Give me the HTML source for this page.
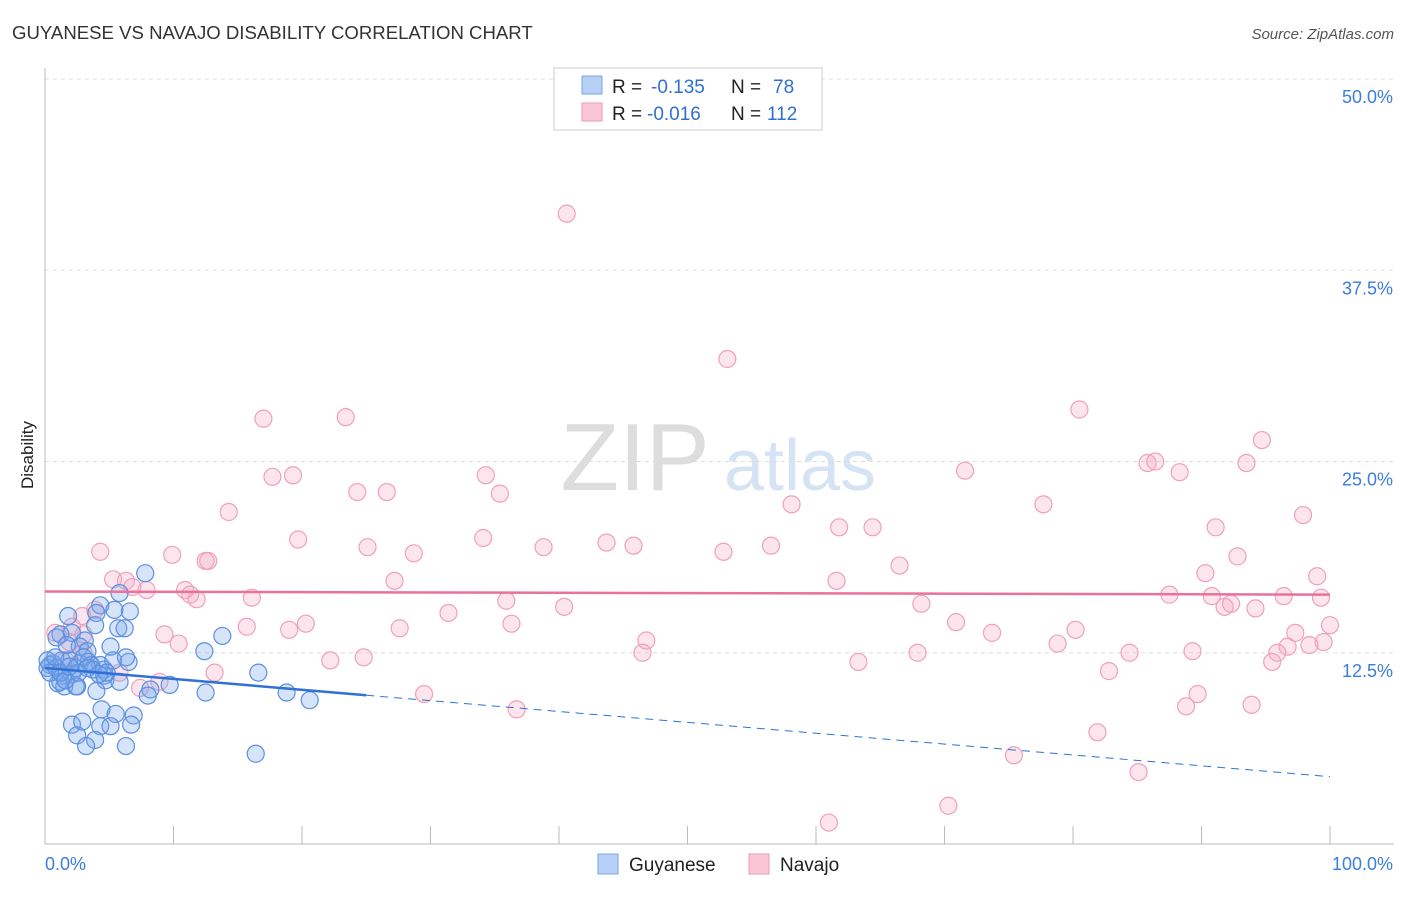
<!DOCTYPE html>
<html><head><meta charset="utf-8"><style>
body{margin:0;background:#fff;font-family:"Liberation Sans",sans-serif;}
svg text{font-family:"Liberation Sans",sans-serif;}
</style></head><body>
<svg id="chart" width="1406" height="892" xmlns="http://www.w3.org/2000/svg">
<text x="12" y="39" font-size="18.6" fill="#333">GUYANESE VS NAVAJO DISABILITY CORRELATION CHART</text>
<text x="1394" y="39" font-size="15" fill="#555" text-anchor="end" font-style="italic">Source: ZipAtlas.com</text>
<text x="33" y="455" font-size="17" fill="#222" text-anchor="middle" transform="rotate(-90 33 455)">Disability</text>
<g><text x="635" y="490" font-size="96" fill="#ddd" text-anchor="middle" font-family="Liberation Serif">ZIP</text><text x="800" y="490" font-size="72" fill="#d5e3f5" text-anchor="middle">atlas</text></g>
<g id="grid"></g><g id="pts"></g><g id="lines"></g>
<g>
<rect x="554" y="68" width="268" height="62" fill="#fff" stroke="#ccc"/>
<rect x="582" y="76" width="20" height="18" fill="#b6d0f5" stroke="#7aa6e6"/>
<rect x="582" y="103" width="20" height="18" fill="#f9c6d6" stroke="#ee9ab4"/>
<text x="612" y="93" font-size="19" fill="#222">R =</text><text x="651" y="93" font-size="19" fill="#2f6fd1">-0.135</text><text x="731" y="93" font-size="19" fill="#222">N =</text><text x="773" y="93" font-size="19" fill="#2f6fd1">78</text>
<text x="612" y="120" font-size="19" fill="#222">R =</text><text x="647" y="120" font-size="19" fill="#2f6fd1">-0.016</text><text x="731" y="120" font-size="19" fill="#222">N =</text><text x="767" y="120" font-size="19" fill="#2f6fd1">112</text>
</g>
<g>
<rect x="598" y="854" width="20" height="20" fill="#b6d0f5" stroke="#7aa6e6"/><text x="629" y="871" font-size="19" fill="#222">Guyanese</text>
<rect x="749" y="854" width="20" height="20" fill="#f9c6d6" stroke="#ee9ab4"/><text x="780" y="871" font-size="19" fill="#222">Navajo</text>
</g>
</svg>
<script>
const yTicks=[12.5,25,37.5,50];
const yTickLabels=["12.5%","25.0%","37.5%","50.0%"];
const xTickVals=[0,10,20,30,40,50,60,70,80,90,100];
const guyTrend=[11.5,-0.071];
const navTrend=[16.5,-0.002];
const guyX=[7.8,5.8,4.3,6.6,5.4,4.0,1.8,3.9,5.7,6.2,13.8,1.2,0.9,2.1,3.1,2.7,3.3,1.7,0.6,0.4,0.2,0.9,1.3,1.9,2.7,3.4,3.6,4.3,4.6,2.4,2.1,1.4,1.0,1.5,2.5,4.6,4.7,5.3,6.5,5.8,12.4,16.6,1.2,2.4,4.0,8.2,8.0,9.7,12.5,18.8,20.6,4.4,5.5,6.9,2.1,2.9,4.3,5.1,6.7,2.5,3.9,3.2,6.3,16.4,5.1,6.3,0.2,0.8,0.4,3.0,3.7,1.2,4.8,1.6,4.2,2.6,3.3,1.9];
const guyY=[17.7,16.4,15.6,15.2,15.3,15.1,14.9,14.3,14.1,14.1,13.6,13.7,13.5,13.8,13.3,12.9,12.6,13.0,11.8,11.7,11.5,11.5,12.0,12.0,11.8,11.9,11.7,11.7,11.4,11.5,11.1,11.0,10.5,10.3,10.3,11.0,10.7,12.0,11.9,10.6,12.6,11.2,10.6,10.3,10.0,10.1,9.7,10.4,9.9,9.9,9.4,8.8,8.5,8.4,7.8,8.0,7.7,7.7,7.8,7.1,6.8,6.4,6.4,5.9,12.9,12.2,12.0,12.2,11.2,12.2,11.4,11.2,11.2,10.7,11.1,11.2,11.5,11.6];
const navX=[40.6,53.1,17.0,23.4,80.5,94.7,19.3,17.7,34.3,24.3,26.6,14.3,35.4,71.6,85.8,86.4,88.3,93.5,77.7,58.1,61.8,64.4,91.1,97.9,19.7,25.1,34.1,28.7,38.8,43.7,45.8,52.8,56.5,4.3,9.9,12.5,12.7,92.8,66.5,90.3,99.0,5.3,6.3,7.9,6.8,10.9,11.3,11.8,16.1,27.2,61.6,87.5,90.8,96.4,99.3,91.8,92.3,94.2,68.2,35.9,40.4,31.4,3.9,2.9,2.1,0.8,3.0,9.3,10.4,15.7,19.0,20.3,27.6,36.3,70.9,73.7,80.2,97.3,100,46.8,78.8,99.5,98.4,96.7,95.9,46.5,84.4,89.3,67.9,22.2,24.8,63.3,95.5,13.2,82.8,8.9,7.4,29.5,89.7,36.7,88.8,93.9,81.9,75.4,85.1,70.3,61.0,3.0,1.6,1.9,5.8];
const navY=[41.2,31.7,27.8,27.9,28.4,26.4,24.1,24.0,24.1,23.0,23.0,21.7,22.9,24.4,24.9,25.0,24.3,24.9,22.2,22.2,20.7,20.7,20.7,21.5,19.9,19.4,20.0,19.0,19.4,19.7,19.5,19.1,19.5,19.1,18.9,18.5,18.5,18.8,18.2,17.7,17.5,17.3,17.2,16.6,16.8,16.6,16.3,16.0,16.1,17.2,17.2,16.3,16.2,16.2,16.1,15.5,15.7,15.4,15.7,15.9,15.5,15.1,15.3,14.9,14.2,13.8,13.7,13.7,13.1,14.2,14.0,14.4,14.1,14.4,14.5,13.8,14.0,13.8,14.3,13.3,13.1,13.2,13.0,12.9,12.5,12.5,12.5,12.6,12.5,12.0,12.2,11.9,11.9,11.2,11.3,10.6,10.2,9.8,9.8,8.8,9.0,9.1,7.3,5.8,4.7,2.5,1.4,12.5,12.0,13.2,11.2];
const NS="http://www.w3.org/2000/svg";
const X0=45,X1=1330,Y0=844,Y50=79;
const sx=v=>X0+(X1-X0)*v/100, sy=v=>Y0-(Y0-Y50)*v/50;
function mk(t,a,p){const e=document.createElementNS(NS,t);for(const k in a)e.setAttribute(k,a[k]);p.appendChild(e);return e;}
const grid=document.getElementById('grid');
yTicks.forEach((v,i)=>{
 const l=mk('line',{x1:45,x2:1394,y1:sy(v),y2:sy(v),stroke:'#ddd','stroke-dasharray':'4 4'},grid);
 
 
 const t=mk('text',{x:1393,y:sy(v)+24,'font-size':18,fill:'#3b7ddd','text-anchor':'end'},grid);t.textContent=yTickLabels[i];
 
 
});
mk('line',{x1:45,x2:45,y1:68,y2:844,stroke:'#bbb'},grid);
mk('line',{x1:45,x2:1394,y1:844,y2:844,stroke:'#bbb'},grid);
xTickVals.forEach(v=>{const l=mk('line',{x1:sx(v),x2:sx(v),y1:826,y2:844,stroke:'#bbb'},grid);
 
 });
let t=mk('text',{x:45,y:870,'font-size':18,fill:'#3b7ddd'},grid);t.textContent='0.0%';


t=mk('text',{x:1393,y:870,'font-size':18,fill:'#3b7ddd','text-anchor':'end'},grid);t.textContent='100.0%';


const pts=document.getElementById('pts');
navX.forEach((x,i)=>{const c=mk('circle',{cx:sx(x),cy:sy(navY[i]),r:8.5,fill:'rgba(246,170,195,0.3)',stroke:'#f0a0ba','stroke-width':1.2},pts);
 
 });
guyX.forEach((x,i)=>{const c=mk('circle',{cx:sx(x),cy:sy(guyY[i]),r:8.5,fill:'rgba(120,165,235,0.3)',stroke:'#5b8fe0','stroke-width':1.2},pts);
 
 });
const ln=document.getElementById('lines');
const [ga,gb]=guyTrend,[na,nb]=navTrend;
let e=mk('line',{x1:sx(0),y1:sy(ga),x2:sx(25),y2:sy(ga+gb*25),stroke:'#2f72d6','stroke-width':2.5},ln);


e=mk('line',{x1:sx(25),y1:sy(ga+gb*25),x2:sx(100),y2:sy(ga+gb*100),stroke:'#2f72d6','stroke-width':1,'stroke-dasharray':'8 6'},ln);


e=mk('line',{x1:sx(0),y1:sy(na),x2:sx(100),y2:sy(na+nb*100),stroke:'#e8729a','stroke-width':2.5},ln);


</script>
</body></html>
